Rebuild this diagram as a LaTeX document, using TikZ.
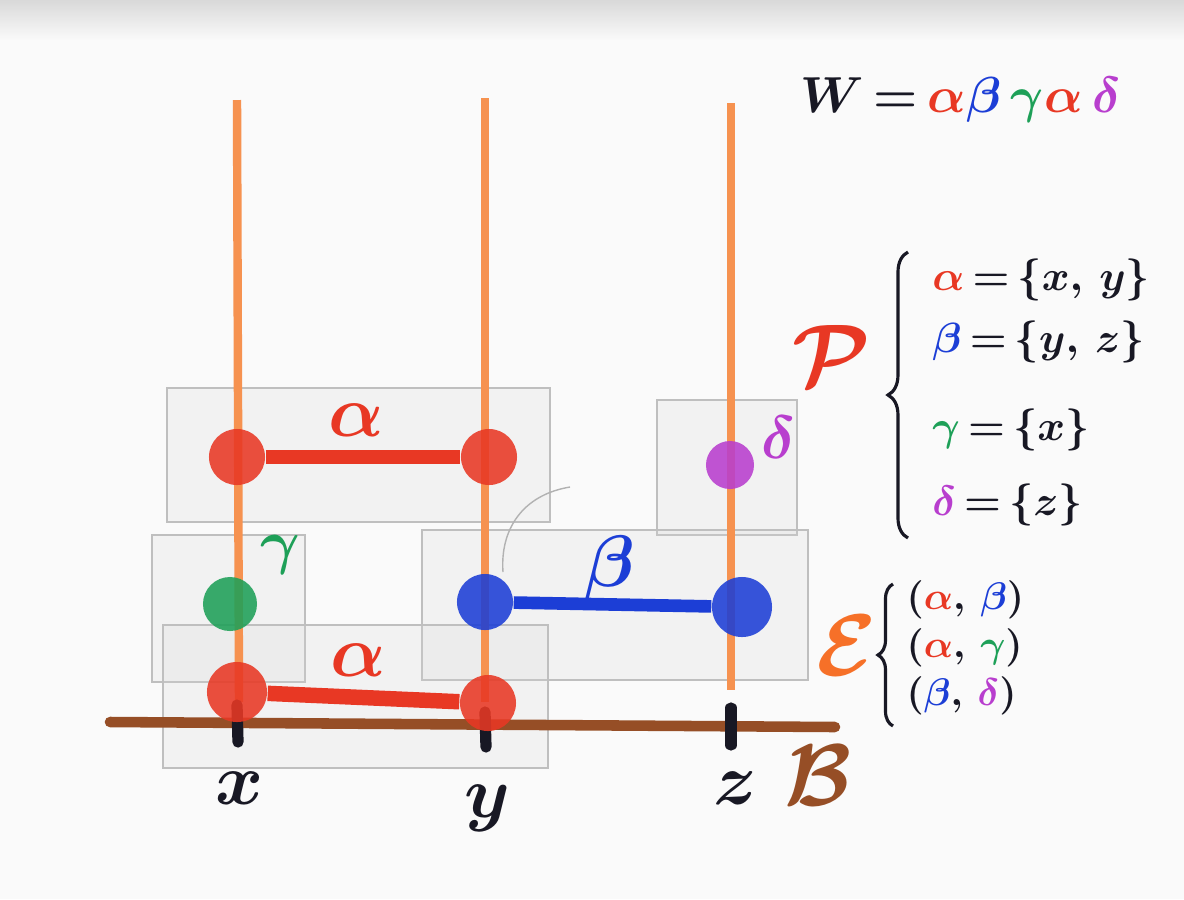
\documentclass[tikz,border=0pt]{standalone}
\usepackage{amsmath, amssymb}
\usepackage{tikz}
\usetikzlibrary{decorations.pathreplacing}
\definecolor{penred}{RGB}{232,56,36}
\definecolor{penblue}{RGB}{28,62,214}
\definecolor{pengreen}{RGB}{30,160,88}
\definecolor{penpurple}{RGB}{184,62,206}
\definecolor{penorange}{RGB}{246,112,40}
\definecolor{wireorange}{RGB}{246,146,80}
\definecolor{penbrown}{RGB}{150,78,38}
\definecolor{penblack}{RGB}{24,24,36}

\begin{document}
\boldmath
\begin{tikzpicture}[x=0.01cm, y=-0.01cm,
  sheet/.style={draw=gray!50, fill=gray!30, fill opacity=0.22, line width=0.5pt},
  wire/.style={draw=wireorange, line width=2.4pt},
  atom/.style={circle, fill=#1, fill opacity=0.88, minimum size=0.56cm, inner sep=0pt},
  bond/.style={draw=#1, line width=4pt},
  tickmark/.style={draw=penblack, line width=3.2pt, line cap=round},
  glyph/.style={font=\fontsize{20}{24}\selectfont},
  setrow/.style={anchor=west, text=penblack, font=\fontsize{13}{16}\selectfont},
  pairrow/.style={anchor=west, text=penblack, inner sep=0pt, font=\fontsize{11}{13}\selectfont}
  ]

  % Fond (papier)
  \fill[gray!4] (0,0) rectangle (1184,899);
  \shade[top color=gray!30, bottom color=gray!4] (0,0) rectangle (1184,40);
  \useasboundingbox (0,0) rectangle (1184,899);

  % Feuilles transparentes
  \draw[sheet] (167,388) rectangle (550,522);
  \draw[sheet] (657,400) rectangle (797,535);
  \draw[sheet] (422,530) rectangle (808,680);
  \draw[sheet] (152,535) rectangle (305,682);
  \draw[sheet] (163,625) rectangle (548,768);

  % Trait de crayon
  \draw[gray!60, line width=0.4pt] (570,487) .. controls (522,495) and (500,530) .. (503,572);

  % Fils verticaux
  \coordinate (xtop) at (237,100);  \coordinate (xbot) at (239,702);
  \coordinate (ytop) at (485,98);   \coordinate (ybot) at (485,702);
  \coordinate (ztop) at (731,103);  \coordinate (zbot) at (731,690);
  \draw[wire] (xtop) -- (xbot);
  \draw[wire] (ytop) -- (ybot);
  \draw[wire] (ztop) -- (zbot);

  % Ligne de base B
  \coordinate (bleft) at (110,722);
  \coordinate (bright) at (835,727);
  \draw[draw=penbrown, line width=3pt, line cap=round] (bleft) -- (bright);
  \draw[tickmark] (237,705) -- (238,742);
  \draw[tickmark] (485,712) -- (486,747);
  \draw[tickmark] (731,708) -- (731,745);

  % Sites x, y, z
  \node[glyph, text=penblack] (xsite) at (240,788) {$x$};
  \node[glyph, text=penblack] (ysite) at (487,808) {$y$};
  \node[glyph, text=penblack] (zsite) at (735,788) {$z$};
  \node[glyph, text=penbrown, font=\fontsize{24}{28}\selectfont] (bset) at (818,775) {$\mathcal{B}$};

  % Polymère alpha (haut)
  \node[atom=penred] (a1x) at (237,457) {};
  \node[atom=penred] (a1y) at (489,457) {};
  \draw[bond=penred] (a1x) -- (a1y);
  \node[glyph, text=penred] (a1lab) at (356,420) {$\alpha$};

  % Polymère gamma
  \node[atom=pengreen, minimum size=0.54cm] (g1x) at (230,604) {};
  \node[glyph, text=pengreen, font=\fontsize{17}{20}\selectfont] (g1lab) at (280,555) {$\gamma$};

  % Polymère beta
  \node[atom=penblue] (b1y) at (485,602) {};
  \node[atom=penblue, minimum size=0.6cm] (b1z) at (742,607) {};
  \draw[bond=penblue, line width=3.6pt] (b1y) -- (b1z);
  \node[glyph, text=penblue] (b1lab) at (610,568) {$\beta$};

  % Polymère delta
  \node[atom=penpurple, minimum size=0.48cm] (d1z) at (730,465) {};
  \node[glyph, text=penpurple, font=\fontsize{17}{20}\selectfont] (d1lab) at (779,437) {$\delta$};

  % Polymère alpha (bas)
  \node[atom=penred, minimum size=0.6cm] (a2x) at (237,692) {};
  \node[atom=penred] (a2y) at (488,703) {};
  \draw[bond=penred, line width=4.4pt] (a2x) -- (a2y);
  \node[glyph, text=penred] (a2lab) at (358,660) {$\alpha$};

  % Mot W
  \node[anchor=west, text=penblack, font=\fontsize{15.5}{18}\selectfont] (word) at (788,100)
    {$W\,{=}\,\textcolor{penred}{\alpha}\textcolor{penblue}{\beta}\,\textcolor{pengreen}{\gamma}\textcolor{penred}{\alpha}\,\textcolor{penpurple}{\delta}$};

  % Ensemble P
  \node[glyph, text=penred, font=\fontsize{26}{30}\selectfont] (pset) at (832,355) {$\mathcal{P}$};
  \draw[penblack, line width=0.9pt, decorate, decoration={brace, amplitude=0.2cm}] (908,538) -- (908,252);
  \node[setrow] (prow1) at (920,280) {$\textcolor{penred}{\alpha}\,{=}\,\{x,\,y\}$};
  \node[setrow] (prow2) at (920,342) {$\textcolor{penblue}{\beta}\,{=}\,\{y,\,z\}$};
  \node[setrow] (prow3) at (920,430) {$\textcolor{pengreen}{\gamma}\,{=}\,\{x\}$};
  \node[setrow] (prow4) at (920,505) {$\textcolor{penpurple}{\delta}\,{=}\,\{z\}$};

  % Ensemble E
  \node[glyph, text=penorange, font=\fontsize{26}{30}\selectfont] (eset) at (847,645) {$\mathcal{E}$};
  \draw[penblack, line width=0.9pt, decorate, decoration={brace, amplitude=0.15cm}] (893,726) -- (893,584);
  \node[pairrow] (erow1) at (906,600) {$(\textcolor{penred}{\alpha},\,\textcolor{penblue}{\beta})$};
  \node[pairrow] (erow2) at (906,648) {$(\textcolor{penred}{\alpha},\,\textcolor{pengreen}{\gamma})$};
  \node[pairrow] (erow3) at (906,696) {$(\textcolor{penblue}{\beta},\,\textcolor{penpurple}{\delta})$};

\end{tikzpicture}
\end{document}
